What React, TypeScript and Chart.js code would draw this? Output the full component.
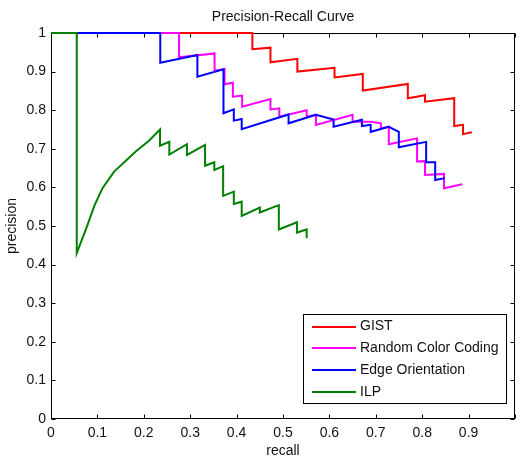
import React, { useEffect, useRef } from 'react';
import { Chart, registerables } from 'chart.js';

Chart.register(...registerables);

const FONT = '"Liberation Sans", Arial, Helvetica, sans-serif';

const chartTitle = 'Precision-Recall Curve';
const xAxisLabel = 'recall';
const yAxisLabel = 'precision';

const seriesNames = ['GIST', 'Random Color Coding', 'Edge Orientation', 'ILP'];
const seriesColors = ['#ff0000', '#ff00ff', '#0000ff', '#008000'];

const xTickValues = [0, 0.1, 0.2, 0.3, 0.4, 0.5, 0.6, 0.7, 0.8, 0.9, 1];
const yTickValues = [0, 0.1, 0.2, 0.3, 0.4, 0.5, 0.6, 0.7, 0.8, 0.9, 1];

const gistRecall = [0, 0.434, 0.434, 0.473, 0.473, 0.531, 0.531, 0.611, 0.611, 0.672, 0.672, 0.769, 0.769, 0.806, 0.806, 0.869, 0.869, 0.888, 0.888, 0.907];
const gistPrecision = [1, 1, 0.958, 0.962, 0.924, 0.933, 0.9, 0.91, 0.885, 0.894, 0.851, 0.868, 0.831, 0.839, 0.822, 0.831, 0.759, 0.762, 0.738, 0.743];

const rccRecall = [0, 0.276, 0.276, 0.3525, 0.3525, 0.3717, 0.374, 0.374, 0.392, 0.392, 0.412, 0.412, 0.473, 0.473, 0.492, 0.492, 0.551, 0.551, 0.571, 0.571, 0.65, 0.65, 0.689, 0.711, 0.711, 0.728, 0.728, 0.789, 0.789, 0.806, 0.806, 0.847, 0.847, 0.886];
const rccPrecision = [1, 1, 0.937, 0.947, 0.902, 0.906, 0.907, 0.867, 0.871, 0.835, 0.838, 0.809, 0.829, 0.802, 0.805, 0.783, 0.8, 0.783, 0.788, 0.762, 0.788, 0.77, 0.77, 0.766, 0.753, 0.757, 0.712, 0.727, 0.667, 0.668, 0.632, 0.635, 0.598, 0.608];

const edgeRecall = [0, 0.2355, 0.2355, 0.3155, 0.3155, 0.3717, 0.3717, 0.394, 0.394, 0.411, 0.411, 0.512, 0.512, 0.571, 0.609, 0.609, 0.67, 0.67, 0.689, 0.689, 0.728, 0.7496, 0.7496, 0.8085, 0.8085, 0.828, 0.828, 0.849];
const edgePrecision = [1, 1, 0.923, 0.943, 0.887, 0.906, 0.792, 0.802, 0.773, 0.777, 0.751, 0.789, 0.766, 0.788, 0.776, 0.757, 0.775, 0.759, 0.762, 0.744, 0.757, 0.744, 0.704, 0.718, 0.665, 0.665, 0.619, 0.624];

const ilpRecall = [0, 0.0555, 0.0555, 0.076, 0.094, 0.111, 0.136, 0.182, 0.211, 0.235, 0.235, 0.255, 0.255, 0.293, 0.293, 0.332, 0.332, 0.352, 0.352, 0.371, 0.371, 0.394, 0.394, 0.411, 0.411, 0.45, 0.45, 0.491, 0.491, 0.53, 0.53, 0.551, 0.551];
const ilpPrecision = [1, 1, 0.43, 0.494, 0.554, 0.598, 0.641, 0.6925, 0.721, 0.75, 0.708, 0.718, 0.685, 0.712, 0.684, 0.71, 0.656, 0.665, 0.645, 0.655, 0.578, 0.589, 0.557, 0.563, 0.526, 0.548, 0.535, 0.554, 0.491, 0.5095, 0.483, 0.491, 0.468];

const seriesRecall = [gistRecall, rccRecall, edgeRecall, ilpRecall];
const seriesPrecision = [gistPrecision, rccPrecision, edgePrecision, ilpPrecision];

const fmt = (v: number) => String(Number(v.toFixed(1)));

const framePlugin = {
  id: 'matlabFrame',
  beforeDatasetsDraw(chart: any) {
    const { ctx, chartArea: a, scales } = chart;
    const L = Math.round(a.left) + 0.5;
    const R = Math.round(a.right) - 0.5;
    const T = Math.round(a.top) + 0.5;
    const B = Math.round(a.bottom) - 0.5;
    ctx.save();
    ctx.strokeStyle = '#000';
    ctx.lineWidth = 1;
    ctx.strokeRect(L, T, R - L, B - T);
    const tl = 4;
    ctx.beginPath();
    xTickValues.forEach((v) => {
      const px = Math.round(scales.x.getPixelForValue(v)) + 0.5;
      ctx.moveTo(px, B);
      ctx.lineTo(px, B - tl);
      ctx.moveTo(px, T);
      ctx.lineTo(px, T + tl);
    });
    yTickValues.forEach((v) => {
      const py = Math.round(scales.y.getPixelForValue(v)) + 0.5;
      ctx.moveTo(L, py);
      ctx.lineTo(L + tl, py);
      ctx.moveTo(R, py);
      ctx.lineTo(R - tl, py);
    });
    ctx.stroke();
    ctx.restore();
  },
  afterDraw(chart: any) {
    const { ctx, chartArea: a } = chart;
    const datasets = chart.data.datasets;
    ctx.save();
    ctx.font = `14px ${FONT}`;
    let maxW = 0;
    datasets.forEach((d: any) => {
      maxW = Math.max(maxW, ctx.measureText(d.label).width);
    });
    const lineStart = 9;
    const lineLen = 44;
    const textOff = 57;
    const w = textOff + maxW + 7;
    const h = 89;
    const right = Math.round(a.right - 9);
    const bottom = Math.round(a.bottom - 16);
    const left = right - Math.round(w);
    const top = bottom - h;
    ctx.fillStyle = '#fff';
    ctx.fillRect(left, top, right - left, h);
    ctx.strokeStyle = '#000';
    ctx.lineWidth = 1;
    ctx.strokeRect(left + 0.5, top + 0.5, right - left, h);
    datasets.forEach((d: any, i: number) => {
      const cy = top + 12.5 + i * 21.8;
      ctx.strokeStyle = d.borderColor;
      ctx.lineWidth = 2;
      ctx.beginPath();
      ctx.moveTo(left + lineStart, Math.round(cy));
      ctx.lineTo(left + lineStart + lineLen, Math.round(cy));
      ctx.stroke();
      ctx.fillStyle = '#111';
      ctx.textBaseline = 'middle';
      ctx.textAlign = 'left';
      ctx.fillText(d.label, left + textOff, cy);
    });
    ctx.restore();
  },
};

export default function App() {
  const canvasRef = useRef<HTMLCanvasElement | null>(null);

  useEffect(() => {
    const canvas = canvasRef.current;
    if (!canvas) return;
    const datasets = seriesNames.map((name, i) => ({
      label: name,
      data: seriesRecall[i].map((r, j) => ({ x: r, y: seriesPrecision[i][j] })),
      borderColor: seriesColors[i],
      backgroundColor: seriesColors[i],
      borderWidth: 2,
      pointRadius: 0,
      tension: 0,
      fill: false,
      clip: 3,
      order: seriesNames.length - i,
    }));
    const chart = new Chart(canvas, {
      type: 'line',
      data: { datasets },
      plugins: [framePlugin],
      options: {
        animation: false,
        responsive: false,
        devicePixelRatio: 1,
        layout: { padding: { left: 0, right: 1, top: 0, bottom: 0 } },
        plugins: {
          legend: { display: false },
          tooltip: { enabled: false },
          title: {
            display: true,
            fullSize: false,
            text: chartTitle,
            color: '#111',
            font: { family: FONT, size: 14, weight: 'normal' },
            padding: { top: 8.6, bottom: 7.6 },
          },
        },
        scales: {
          x: {
            type: 'linear',
            min: 0,
            max: 1,
            grid: { display: false, drawTicks: false },
            border: { display: false },
            afterFit: (s: any) => {
              s.height = 40;
            },
            afterBuildTicks: (s: any) => {
              s.ticks = xTickValues.map((v) => ({ value: v }));
            },
            ticks: {
              color: '#111',
              padding: 6,
              maxRotation: 0,
              autoSkip: false,
              font: { family: FONT, size: 14 },
              callback: (v: any) => (Number(v) >= 0.999 ? '' : fmt(Number(v))),
            },
            title: {
              display: true,
              text: xAxisLabel,
              color: '#111',
              font: { family: FONT, size: 14 },
              padding: { top: 0, bottom: -1 },
            },
          },
          y: {
            type: 'linear',
            min: 0,
            max: 1,
            grid: { display: false, drawTicks: false },
            border: { display: false },
            afterFit: (s: any) => {
              s.width = 51;
            },
            afterBuildTicks: (s: any) => {
              s.ticks = yTickValues.map((v) => ({ value: v }));
            },
            ticks: {
              color: '#111',
              padding: 5,
              autoSkip: false,
              font: { family: FONT, size: 14 },
              callback: (v: any) => fmt(Number(v)),
            },
            title: {
              display: true,
              text: yAxisLabel,
              color: '#111',
              font: { family: FONT, size: 14 },
              padding: { top: 3.6, bottom: 0 },
            },
          },
        },
      },
    } as any);
    return () => chart.destroy();
  }, []);

  return (
    <div style={{ position: 'absolute', left: 0, top: 0, width: 521, height: 459, background: '#fff' }}>
      <canvas ref={canvasRef} width={521} height={459} style={{ display: 'block' }} />
    </div>
  );
}
